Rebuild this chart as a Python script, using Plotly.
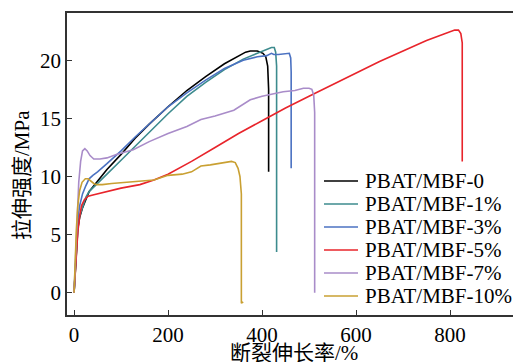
import plotly.graph_objects as go

# ---- data ----
series_names = ["PBAT/MBF-0", "PBAT/MBF-1%", "PBAT/MBF-3%", "PBAT/MBF-5%", "PBAT/MBF-7%", "PBAT/MBF-10%"]
series_colors = ["#000000", "#3d8b8e", "#4b72c2", "#e8242b", "#a98cc9", "#c9a032"]

x_0 = [0, 2, 5, 8, 12, 18, 25, 32, 40, 50, 70, 100, 130, 160, 200, 240, 280, 320, 350, 365, 375, 390, 402, 408, 412, 414, 414]
y_0 = [0, 1.5, 4, 5.5, 6.5, 7.3, 8.0, 8.7, 9.1, 9.6, 10.6, 11.9, 13.3, 14.5, 16.0, 17.4, 18.6, 19.7, 20.4, 20.7, 20.8, 20.8, 20.6, 20.3, 19.5, 17.5, 10.4]

x_1 = [0, 2, 5, 8, 12, 18, 25, 32, 40, 50, 70, 100, 130, 160, 200, 240, 280, 320, 360, 390, 410, 420, 426, 429, 431, 431]
y_1 = [0, 1.5, 4, 5.6, 6.6, 7.4, 8.2, 8.7, 9.0, 9.4, 10.2, 11.4, 12.6, 13.8, 15.4, 16.9, 18.1, 19.2, 20.1, 20.6, 20.9, 21.1, 21.1, 20.7, 19.5, 3.5]

x_3 = [0, 2, 5, 8, 12, 18, 25, 32, 40, 50, 70, 100, 130, 160, 200, 240, 280, 320, 360, 390, 410, 420, 425, 435, 450, 458, 461, 462, 462]
y_3 = [0, 1.8, 4.5, 6.3, 7.5, 8.5, 9.2, 9.8, 10.1, 10.4, 11.1, 12.2, 13.4, 14.5, 16.0, 17.2, 18.3, 19.3, 20.0, 20.3, 20.4, 20.6, 20.5, 20.5, 20.6, 20.6, 20.2, 19.0, 10.7]

x_5 = [0, 2, 5, 8, 12, 16, 22, 30, 40, 60, 100, 140, 170, 200, 250, 300, 350, 400, 450, 500, 550, 600, 650, 700, 750, 790, 810, 818, 823, 826, 826]
y_5 = [0, 1.2, 3.5, 5.2, 6.6, 7.5, 8.0, 8.3, 8.4, 8.6, 9.0, 9.3, 9.7, 10.2, 11.3, 12.5, 13.7, 14.8, 15.9, 16.9, 17.9, 18.9, 19.9, 20.8, 21.7, 22.3, 22.6, 22.6, 22.3, 21.5, 11.3]

x_7 = [0, 2, 4, 7, 10, 14, 18, 23, 28, 34, 42, 55, 70, 90, 126, 160, 200, 240, 270, 300, 340, 375, 400, 445, 470, 488, 500, 506, 510, 512, 512]
y_7 = [0, 2, 5, 7.5, 9.5, 11.3, 12.2, 12.4, 12.2, 11.8, 11.5, 11.5, 11.6, 11.9, 12.3, 13.0, 13.7, 14.3, 14.9, 15.2, 15.7, 16.6, 16.9, 17.3, 17.4, 17.6, 17.6, 17.5, 17.0, 15.5, 0]

x_10 = [0, 2, 5, 8, 12, 17, 24, 30, 36, 42, 48, 60, 80, 110, 140, 170, 200, 230, 250, 270, 290, 320, 335, 343, 349, 353, 355, 356, 356, 360]
y_10 = [0, 2.5, 5.5, 7.5, 8.8, 9.5, 9.8, 9.8, 9.6, 9.4, 9.3, 9.3, 9.4, 9.5, 9.6, 9.7, 10.1, 10.2, 10.4, 10.9, 11.0, 11.2, 11.3, 11.2, 10.7, 10.0, 9.0, 8.5, -0.9, -0.8]

x_ticks = [0, 200, 400, 600, 800]
y_ticks = [0, 5, 10, 15, 20]
x_title = "断裂伸长率/%"
y_title = "拉伸强度/MPa"

all_x = [x_0, x_1, x_3, x_5, x_7, x_10]
all_y = [y_0, y_1, y_3, y_5, y_7, y_10]

FONT = "Liberation Serif, Noto Sans CJK SC"

fig = go.Figure()
for name, color, xs, ys in zip(series_names, series_colors, all_x, all_y):
    fig.add_trace(go.Scatter(x=xs, y=ys, mode="lines", name=name,
                             line=dict(color=color, width=1.6), showlegend=False))

# manual legend (compact rows like the reference)
row_py = [181, 204, 227, 250, 273, 296]
L, T, W, H = 67, 13, 446, 302
for name, color, py in zip(series_names, series_colors, row_py):
    yp = (T + H - py) / H
    fig.add_shape(type="line", xref="paper", yref="paper",
                  x0=(324 - L) / W, x1=(358 - L) / W, y0=yp, y1=yp,
                  line=dict(color=color, width=1.6))
    fig.add_annotation(xref="paper", yref="paper", x=(363 - L) / W, y=yp,
                       text=name, showarrow=False, xanchor="left", yanchor="middle",
                       font=dict(family=FONT, size=21, color="#000"))

fig.add_annotation(xref="paper", yref="paper", x=(294 - L) / W, y=(T + H - 340) / H,
                   text=x_title, showarrow=False, xanchor="center", yanchor="top",
                   borderpad=0, font=dict(family=FONT, size=21, color="#000"))
fig.add_annotation(xref="paper", yref="paper", x=(22 - L) / W, y=(T + H - 175) / H,
                   text=y_title, showarrow=False, xanchor="center", yanchor="middle",
                   textangle=-90, font=dict(family=FONT, size=21, color="#000"))

axis_common = dict(showgrid=False, zeroline=False, showline=True, linecolor="#333",
                   linewidth=1.5, ticks="inside", ticklen=5, tickwidth=1.2, tickcolor="#333",
                   tickfont=dict(family=FONT, size=21, color="#000"))
fig.update_xaxes(range=[-15, 934], tickvals=x_ticks, mirror=True, **axis_common)
fig.update_yaxes(range=[-1.92, 24.07], tickvals=y_ticks, **axis_common)

fig.update_layout(width=513, height=362, margin=dict(l=L, r=0, t=T, b=362 - T - H),
                  font=dict(family=FONT, size=21, color="#000"),
                  plot_bgcolor="white", paper_bgcolor="white", showlegend=False)

fig.write_html("out.html", config={"displayModeBar": False},
               post_script="document.body.style.margin='0';document.body.style.overflow='hidden';")
